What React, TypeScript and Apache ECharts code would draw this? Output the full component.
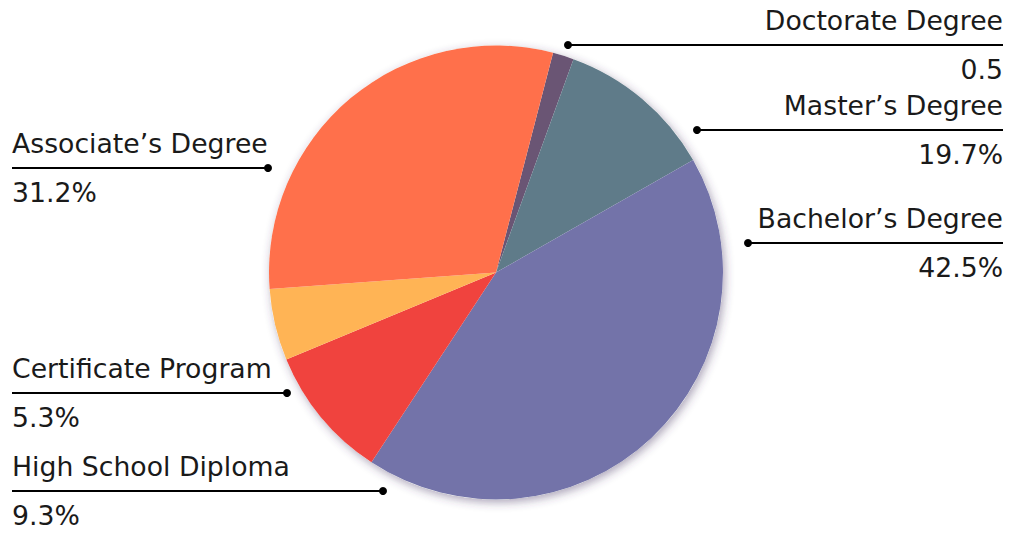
import React, { useEffect, useRef } from "react";
import * as echarts from "echarts";

// Data
const CATEGORIES = [
  "Doctorate Degree",
  "Master’s Degree",
  "Bachelor’s Degree",
  "High School Diploma",
  "Certificate Program",
  "Associate’s Degree",
];
const SLICE_VALUES = [1.5, 11.2, 42.5, 9.5, 5.1, 30.2];
const VALUE_LABELS = ["0.5", "19.7%", "42.5%", "9.3%", "5.3%", "31.2%"];

// Styles / layout
const COLORS = ["#6a5574", "#5f7b89", "#7373a9", "#f0433e", "#ffb455", "#ff704b"];
const LABEL_LINE_Y = [45, 130, 243, 491, 393, 168];
const LABEL_DOT_X = [568, 697, 748, 383, 287, 268];
const CENTER = [496, 272.5];
const RADIUS = 227;
const LEFT_EDGE = 12;
const RIGHT_EDGE = 1003;
const FONT = "DejaVu Sans";

export default function App() {
  const ref = useRef<HTMLDivElement>(null);

  useEffect(() => {
    if (!ref.current) return;
    const chart = echarts.init(ref.current, undefined, { renderer: "svg" });

    const data = CATEGORIES.map((name, i) => ({
      name,
      value: SLICE_VALUES[i],
      itemStyle: { color: COLORS[i] },
    }));

    const dots = CATEGORIES.map((_, i) => ({
      type: "circle",
      shape: { cx: LABEL_DOT_X[i], cy: LABEL_LINE_Y[i], r: 4 },
      style: { fill: "#000" },
      z: 100,
      silent: true,
    }));

    chart.setOption({
      animation: false,
      backgroundColor: "#ffffff",
      graphic: dots,
      series: [
        {
          type: "pie",
          silent: true,
          center: CENTER,
          radius: RADIUS,
          data: [{ value: 1, name: "bg" }],
          label: { show: false },
          labelLine: { show: false },
          itemStyle: {
            color: "#ffffff",
            shadowBlur: 10,
            shadowColor: "rgba(70,50,100,0.45)",
            shadowOffsetX: 2,
            shadowOffsetY: 3,
          },
          z: 1,
        },
        {
          type: "pie",
          center: CENTER,
          radius: RADIUS,
          startAngle: 75.44,
          clockwise: true,
          data,
          z: 2,
          label: {
            show: true,
            position: "outside",
            overflow: "none",
            formatter: (p: any) => `{n|${p.name}}\n{v|${VALUE_LABELS[p.dataIndex]}}`,
            rich: {
              n: { fontFamily: FONT, fontSize: 26.7, color: "#1a1a1a", lineHeight: 49 },
              v: { fontFamily: FONT, fontSize: 26.7, color: "#1a1a1a", lineHeight: 49 },
            },
          },
          labelLine: {
            show: true,
            length: 10,
            length2: 10,
            lineStyle: { color: "#000", width: 2 },
          },
          labelLayout: (params: any) => {
            const i = params.dataIndex;
            const y = LABEL_LINE_Y[i];
            const dx = LABEL_DOT_X[i];
            const isLeft = dx < CENTER[0];
            const edge = isLeft ? LEFT_EDGE : RIGHT_EDGE;
            return {
              x: edge,
              y,
              width: 400,
              align: isLeft ? "left" : "right",
              verticalAlign: "middle",
              labelLinePoints: [
                [dx, y],
                [dx, y],
                [edge, y],
              ],
            };
          },
        },
      ],
    });

    return () => chart.dispose();
  }, []);

  return (
    <div
      ref={ref}
      style={{ position: "fixed", left: 0, top: 0, width: 1010, height: 533 }}
    />
  );
}
